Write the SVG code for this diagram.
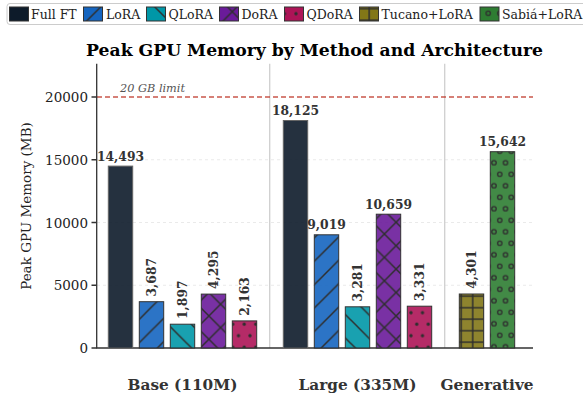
<svg xmlns="http://www.w3.org/2000/svg" width="583" height="396" viewBox="0 0 583 396">
<style>
text{font-family:"DejaVu Serif","Liberation Serif",serif}
.title{font-size:17.2px;font-weight:bold;fill:#000;text-anchor:middle}
.tick{font-size:13.5px;fill:#222;text-anchor:end}
.ylab{font-size:13.5px;fill:#222;text-anchor:middle}
.val{font-size:12.3px;font-weight:bold;fill:#333}
.vh{text-anchor:middle}
.grp{font-size:15.3px;font-weight:bold;fill:#333;text-anchor:middle}
.leg{font-size:12.5px;fill:#222}
.lim{font-size:11.3px;font-style:italic;fill:#555}
.h{stroke:#2e2e2e;stroke-width:1.5;fill:none}
.edge{fill:none;stroke:#333;stroke-width:1}
.grid{stroke:#e4e4e4;stroke-width:0.8;stroke-dasharray:3,3}
.sep{stroke:#cfcfcf;stroke-width:1.3}
.spine{stroke:#333;stroke-width:1.3;fill:none}
.c-full{fill:#0d1b2a}
.c-lora{fill:#1565c0}
.c-qlora{fill:#0097a7}
.c-dora{fill:#6a1b9a}
.c-qdora{fill:#ad1457}
.c-tuc{fill:#827717}
.c-sab{fill:#2e7d32}
.bars rect.f{fill-opacity:0.9}
</style>
<defs>
<pattern id="p-ne" patternUnits="userSpaceOnUse" x="14" y="0" width="23.4" height="23.4">
<path class="h" d="M-2,25.4 L25.4,-2 M-2,2 L2,-2 M21.4,25.4 L25.4,21.4"/>
</pattern>
<pattern id="p-se" patternUnits="userSpaceOnUse" x="0" y="16" width="23.4" height="23.4">
<path class="h" d="M-2,-2 L25.4,25.4 M-2,21.4 L2,25.4 M21.4,-2 L25.4,2"/>
</pattern>
<pattern id="p-x" patternUnits="userSpaceOnUse" x="10" y="0" width="23.4" height="23.4">
<path class="h" d="M-2,25.4 L25.4,-2 M-2,2 L2,-2 M21.4,25.4 L25.4,21.4 M-2,-2 L25.4,25.4 M-2,21.4 L2,25.4 M21.4,-2 L25.4,2"/>
</pattern>
<pattern id="p-dot" patternUnits="userSpaceOnUse" x="8.5" y="13.7" width="11.5" height="23">
<g fill="#2e2e2e"><circle cx="0" cy="0" r="1.7"/><circle cx="11.5" cy="0" r="1.7"/><circle cx="0" cy="23" r="1.7"/><circle cx="11.5" cy="23" r="1.7"/><circle cx="5.75" cy="11.5" r="1.7"/></g>
</pattern>
<pattern id="p-o" patternUnits="userSpaceOnUse" x="11" y="1.7" width="11.5" height="23">
<g fill="none" stroke="#2e2e2e" stroke-width="1.3"><circle cx="0" cy="0" r="2.2"/><circle cx="11.5" cy="0" r="2.2"/><circle cx="0" cy="23" r="2.2"/><circle cx="11.5" cy="23" r="2.2"/><circle cx="5.75" cy="11.5" r="2.2"/></g>
</pattern>
<pattern id="p-plus" patternUnits="userSpaceOnUse" x="1.2" y="8.7" width="11.5" height="11.5">
<path class="h" d="M0,-1 V12.5 M11.5,-1 V12.5 M-1,0 H12.5 M-1,11.5 H12.5"/>
</pattern>
</defs>

<rect width="583" height="396" fill="#fff"/>

<g id="legend">
<rect x="7" y="3.5" width="580" height="21" rx="3" fill="#fff" stroke="#cccccc" stroke-width="1"/>
<g id="leg-full"><rect x="9.5" y="7" width="19" height="14" class="c-full"/><rect x="9.5" y="7" width="19" height="14" class="edge"/><text class="leg" x="31" y="18.5">Full FT</text></g>
<g id="leg-lora"><rect x="83.5" y="7" width="19" height="14" class="c-lora"/><rect x="83.5" y="7" width="19" height="14" fill="url(#p-ne)"/><rect x="83.5" y="7" width="19" height="14" class="edge"/><text class="leg" x="106" y="18.5">LoRA</text></g>
<g id="leg-qlora"><rect x="146.5" y="7" width="19" height="14" class="c-qlora"/><rect x="146.5" y="7" width="19" height="14" fill="url(#p-se)"/><rect x="146.5" y="7" width="19" height="14" class="edge"/><text class="leg" x="168.5" y="18.5">QLoRA</text></g>
<g id="leg-dora"><rect x="219.5" y="7" width="19" height="14" class="c-dora"/><rect x="219.5" y="7" width="19" height="14" fill="url(#p-x)"/><rect x="219.5" y="7" width="19" height="14" class="edge"/><text class="leg" x="241.5" y="18.5">DoRA</text></g>
<g id="leg-qdora"><rect x="284.5" y="7" width="19" height="14" class="c-qdora"/><rect x="284.5" y="7" width="19" height="14" fill="url(#p-dot)"/><rect x="284.5" y="7" width="19" height="14" class="edge"/><text class="leg" x="306.5" y="18.5">QDoRA</text></g>
<g id="leg-tucano"><rect x="359.5" y="7" width="19" height="14" class="c-tuc"/><rect x="359.5" y="7" width="19" height="14" fill="url(#p-plus)"/><rect x="359.5" y="7" width="19" height="14" class="edge"/><text class="leg" x="381.5" y="18.5">Tucano+LoRA</text></g>
<g id="leg-sabia"><rect x="480" y="7" width="19" height="14" class="c-sab"/><rect x="480" y="7" width="19" height="14" fill="url(#p-o)"/><rect x="480" y="7" width="19" height="14" class="edge"/><text class="leg" x="502" y="18.5">Sabiá+LoRA</text></g>
</g>

<text class="title" x="314.5" y="56">Peak GPU Memory by Method and Architecture</text>

<g id="axes">
<line class="grid" x1="97" y1="285.25" x2="533" y2="285.25"/>
<line class="grid" x1="97" y1="222.5" x2="533" y2="222.5"/>
<line class="grid" x1="97" y1="159.75" x2="533" y2="159.75"/>
<line class="sep" x1="269.7" y1="63.7" x2="269.7" y2="348"/>
<line class="sep" x1="444.7" y1="63.7" x2="444.7" y2="348"/>
<line x1="97" y1="97" x2="533" y2="97" stroke="#c0392b" stroke-width="1.3" stroke-dasharray="5,3" stroke-opacity="0.85"/>
<text class="lim" x="120" y="91.5">20 GB limit</text>
<path class="spine" d="M96.7,63.7 V348 H533"/>
<path class="spine" d="M91.5,348 H96.7 M91.5,285.25 H96.7 M91.5,222.5 H96.7 M91.5,159.75 H96.7 M91.5,97 H96.7"/>
<text class="tick" x="88" y="353">0</text>
<text class="tick" x="88" y="290.25">5000</text>
<text class="tick" x="88" y="227.5">10000</text>
<text class="tick" x="88" y="164.75">15000</text>
<text class="tick" x="88" y="102">20000</text>
<text class="ylab" transform="translate(31,206) rotate(-90)">Peak GPU Memory (MB)</text>
<text class="grp" x="182.5" y="390">Base (110M)</text>
<text class="grp" x="357.5" y="390">Large (335M)</text>
<text class="grp" x="487" y="390">Generative</text>
</g>

<g class="bars">
<g id="base-full"><rect class="f c-full" x="108.3" y="166.1" width="24.4" height="181.9"/><rect class="edge" x="108.3" y="166.1" width="24.4" height="181.9" style="stroke:#666"/></g>
<g id="base-lora"><rect class="f c-lora" x="139.3" y="301.7" width="24.4" height="46.3"/><rect x="139.3" y="301.7" width="24.4" height="46.3" fill="url(#p-ne)"/><rect class="edge" x="139.3" y="301.7" width="24.4" height="46.3"/></g>
<g id="base-qlora"><rect class="f c-qlora" x="170.3" y="324.2" width="24.4" height="23.8"/><rect x="170.3" y="324.2" width="24.4" height="23.8" fill="url(#p-se)"/><rect class="edge" x="170.3" y="324.2" width="24.4" height="23.8"/></g>
<g id="base-dora"><rect class="f c-dora" x="201.3" y="294.1" width="24.4" height="53.9"/><rect x="201.3" y="294.1" width="24.4" height="53.9" fill="url(#p-x)"/><rect class="edge" x="201.3" y="294.1" width="24.4" height="53.9"/></g>
<g id="base-qdora"><rect class="f c-qdora" x="232.3" y="320.9" width="24.4" height="27.1"/><rect x="232.3" y="320.9" width="24.4" height="27.1" fill="url(#p-dot)"/><rect class="edge" x="232.3" y="320.9" width="24.4" height="27.1"/></g>

<g id="large-full"><rect class="f c-full" x="283.3" y="120.5" width="24.4" height="227.5"/><rect class="edge" x="283.3" y="120.5" width="24.4" height="227.5" style="stroke:#666"/></g>
<g id="large-lora"><rect class="f c-lora" x="314.3" y="234.8" width="24.4" height="113.2"/><rect x="314.3" y="234.8" width="24.4" height="113.2" fill="url(#p-ne)"/><rect class="edge" x="314.3" y="234.8" width="24.4" height="113.2"/></g>
<g id="large-qlora"><rect class="f c-qlora" x="345.3" y="306.8" width="24.4" height="41.2"/><rect x="345.3" y="306.8" width="24.4" height="41.2" fill="url(#p-se)"/><rect class="edge" x="345.3" y="306.8" width="24.4" height="41.2"/></g>
<g id="large-dora"><rect class="f c-dora" x="376.3" y="214.2" width="24.4" height="133.8"/><rect x="376.3" y="214.2" width="24.4" height="133.8" fill="url(#p-x)"/><rect class="edge" x="376.3" y="214.2" width="24.4" height="133.8"/></g>
<g id="large-qdora"><rect class="f c-qdora" x="407.3" y="306.2" width="24.4" height="41.8"/><rect x="407.3" y="306.2" width="24.4" height="41.8" fill="url(#p-dot)"/><rect class="edge" x="407.3" y="306.2" width="24.4" height="41.8"/></g>

<g id="gen-tucano"><rect class="f c-tuc" x="459.3" y="294" width="24.4" height="54"/><rect x="459.3" y="294" width="24.4" height="54" fill="url(#p-plus)"/><rect class="edge" x="459.3" y="294" width="24.4" height="54"/></g>
<g id="gen-sabia"><rect class="f c-sab" x="490.3" y="151.7" width="24.4" height="196.3"/><rect x="490.3" y="151.7" width="24.4" height="196.3" fill="url(#p-o)"/><rect class="edge" x="490.3" y="151.7" width="24.4" height="196.3"/></g>
</g>

<g id="value-labels">
<text class="val vh" x="120.5" y="160.6">14,493</text>
<text class="val" transform="translate(155.5,296.5) rotate(-90)">3,687</text>
<text class="val" transform="translate(186.5,319) rotate(-90)">1,897</text>
<text class="val" transform="translate(217.5,289) rotate(-90)">4,295</text>
<text class="val" transform="translate(248.5,315.7) rotate(-90)">2,163</text>
<text class="val vh" x="295.5" y="115">18,125</text>
<text class="val vh" x="326.5" y="229.3">9,019</text>
<text class="val" transform="translate(361.5,301.6) rotate(-90)">3,281</text>
<text class="val vh" x="388.5" y="208.7">10,659</text>
<text class="val" transform="translate(423.5,301) rotate(-90)">3,331</text>
<text class="val" transform="translate(475.5,288.8) rotate(-90)">4,301</text>
<text class="val vh" x="502.5" y="146.2">15,642</text>
</g>
</svg>
